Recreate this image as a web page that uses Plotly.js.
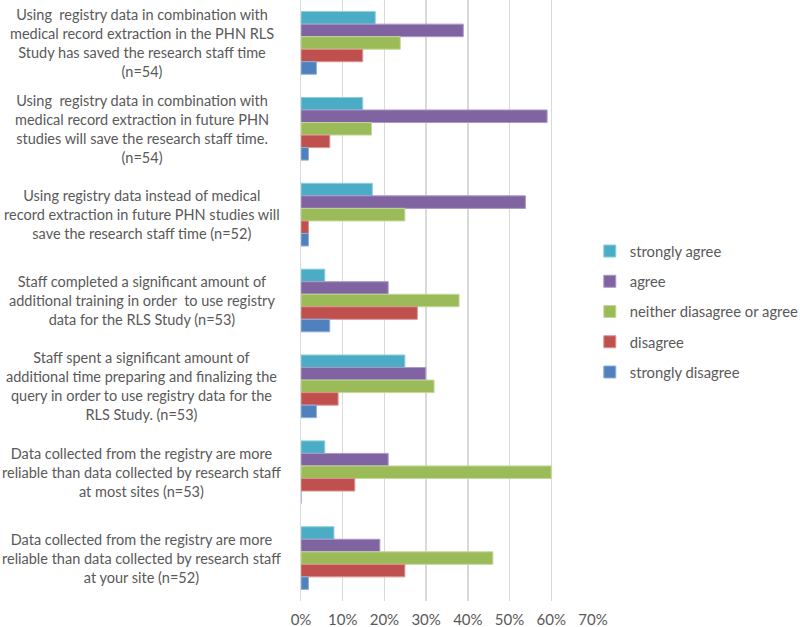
<!DOCTYPE html>
<html>
<head>
<meta charset="utf-8">
<script src="https://cdn.plot.ly/plotly-3.0.1.min.js"></script>
<style>html,body{margin:0;padding:0;background:#fff;}#chart{width:800px;height:627px;}</style>
</head>
<body>
<div id="chart"></div>
<script>
const categories = [
  "Using  registry data in combination with<br>medical record extraction in the PHN RLS<br>Study has saved the research staff time<br>(n=54)",
  "Using  registry data in combination with<br>medical record extraction in future PHN<br>studies will save the research staff time.<br>(n=54)",
  "Using registry data instead of medical<br>record extraction in future PHN studies will<br>save the research staff time (n=52)",
  "Staff completed a significant amount of<br>additional training in order  to use registry<br>data for the RLS Study (n=53)",
  "Staff spent a significant amount of<br>additional time preparing and finalizing the<br>query in order to use registry data for the<br>RLS Study. (n=53)",
  "Data collected from the registry are more<br>reliable than data collected by research staff<br>at most sites (n=53)",
  "Data collected from the registry are more<br>reliable than data collected by research staff<br>at your site (n=52)"
];
const seriesNames = ["strongly agree", "agree", "neither diasagree or agree", "disagree", "strongly disagree"];
const stronglyAgree = [0.178, 0.148, 0.171, 0.057, 0.249, 0.057, 0.079];
const agree = [0.389, 0.590, 0.538, 0.209, 0.299, 0.209, 0.189];
const neither = [0.238, 0.169, 0.249, 0.379, 0.319, 0.600, 0.460];
const disagree = [0.148, 0.069, 0.018, 0.279, 0.089, 0.129, 0.249];
const stronglyDisagree = [0.037, 0.018, 0.018, 0.069, 0.037, 0.0, 0.018];
const xTickVals = [0, 0.1, 0.2, 0.3, 0.4, 0.5, 0.6, 0.7];
const xTickText = ["0%", "10%", "20%", "30%", "40%", "50%", "60%", "70%"];

const colors = ["#4BACC6", "#8064A2", "#9BBB59", "#C0504D", "#4F81BD"];
const outlines = ["#8ccfe0", "#ad98c6", "#c2d99a", "#dd9492", "#8fb0dc"];
const allValues = [stronglyAgree, agree, neither, disagree, stronglyDisagree];

const traces = allValues.map((vals, i) => ({
  type: "bar",
  orientation: "h",
  name: seriesNames[i],
  legendgroup: "g" + i,
  x: vals,
  y: categories,
  marker: {color: colors[i], line: {color: outlines[i], width: 1}},
  hoverinfo: "x+name"
}));

const font = {family: "Lato, 'Open Sans', sans-serif", color: "#595959"};

const annotations = categories.map(c => ({
  xref: "paper", yref: "y",
  x: -0.545, y: c,
  xanchor: "center", yanchor: "middle",
  text: c, showarrow: false, align: "center",
  font: {family: font.family, color: "#595959", size: 14.5}
}));

const layout = {
  width: 800, height: 627,
  margin: {l: 301, r: 207, t: 0, b: 26, autoexpand: false},
  paper_bgcolor: "#ffffff", plot_bgcolor: "#ffffff",
  barmode: "group",
  bargap: 0.27,
  bargroupgap: 0,
  font: font,
  showlegend: true,
  legend: {
    x: 0.989, xanchor: "left", y: 0.481, yanchor: "middle",
    font: {family: font.family, size: 14.8, color: "#595959"},
    tracegroupgap: 8,
    traceorder: "grouped"
  },
  xaxis: {
    range: [0, 0.7],
    tickvals: xTickVals, ticktext: xTickText,
    showgrid: true, gridcolor: "#D9D9D9", gridwidth: 1.5,
    zeroline: false, showline: false, ticks: "",
    ticklabelstandoff: 8,
    tickfont: {family: font.family, size: 15, color: "#595959"},
    fixedrange: true
  },
  yaxis: {
    type: "category",
    categoryorder: "array", categoryarray: categories,
    autorange: "reversed",
    showticklabels: false, ticks: "",
    showgrid: false, zeroline: false,
    showline: true, linecolor: "#D9D9D9", linewidth: 1.5,
    fixedrange: true
  },
  annotations: annotations
};

Plotly.newPlot("chart", traces, layout, {displayModeBar: false, staticPlot: true});
</script>
</body>
</html>
